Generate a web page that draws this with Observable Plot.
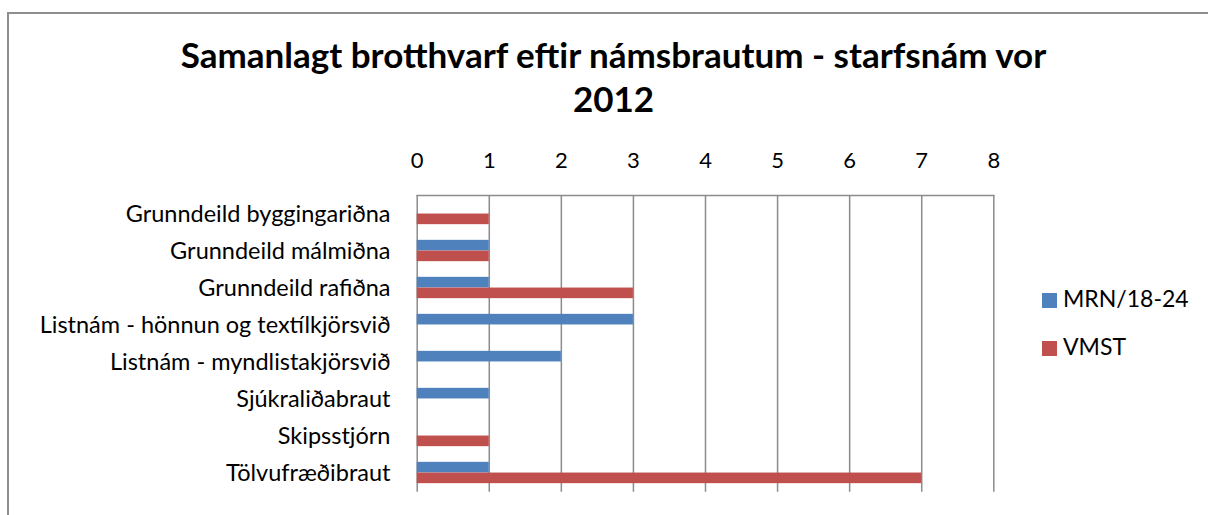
<!DOCTYPE html>
<html>
<head>
<meta charset="utf-8">
<script src="https://cdn.jsdelivr.net/npm/d3@7"></script>
<script src="https://cdn.jsdelivr.net/npm/@observablehq/plot@0.6"></script>
<style>
  html, body { margin: 0; padding: 0; background: #fff; overflow: hidden; }
  #wrap { position: relative; width: 1208px; height: 515px; overflow: hidden; font-family: Lato, "Open Sans", sans-serif; }
  #border { position: absolute; left: 7px; top: 12px; width: 1400px; height: 700px; border: 2px solid #8e8e8e; box-sizing: border-box; }
  #chart { position: absolute; left: 0; top: 0; }
  .title { position: absolute; left: 613.5px; transform: translateX(-50%); white-space: nowrap; font-weight: bold; font-size: 35px; color: #000; line-height: 1; }
  .leg { position: absolute; font-size: 23px; color: #000; white-space: nowrap; line-height: 1; }
  .sw { position: absolute; width: 15px; height: 15px; }
</style>
</head>
<body>
<div id="wrap">
  <div id="border"></div>
  <div id="chart"></div>
  <div class="title" id="t1" style="top:37px">Samanlagt brotthvarf eftir námsbrautum - starfsnám vor</div>
  <div class="title" id="t2" style="top:81px">2012</div>
  <div class="sw" style="left:1042px; top:293px; background:#4F81BD"></div>
  <div class="leg" style="left:1063px; top:286.5px">MRN/18-24</div>
  <div class="sw" style="left:1042px; top:341px; background:#C0504D"></div>
  <div class="leg" style="left:1063px; top:334.5px">VMST</div>
</div>
<script>
const categories = [
  "Grunndeild byggingariðna",
  "Grunndeild málmiðna",
  "Grunndeild rafiðna",
  "Listnám - hönnun og textílkjörsvið",
  "Listnám - myndlistakjörsvið",
  "Sjúkraliðabraut",
  "Skipsstjórn",
  "Tölvufræðibraut"
];
const mrn  = [0, 1, 1, 3, 2, 1, 0, 1];
const vmst = [1, 1, 3, 0, 0, 0, 1, 7];
const xTicks = [0, 1, 2, 3, 4, 5, 6, 7, 8];

const mrnData = categories.map((c, i) => ({cat: c, v: mrn[i]})).filter(d => d.v > 0);
const vmstData = categories.map((c, i) => ({cat: c, v: vmst[i]})).filter(d => d.v > 0);

const band = (491.7 - 195) / categories.length;
const barH = band * 0.2887;
const outer = (band - 2 * barH) / 2;

const plot = Plot.plot({
  width: 1208,
  height: 515,
  marginLeft: 416.7,
  marginRight: 214.7,
  marginTop: 195,
  marginBottom: 23.3,
  style: {fontFamily: "Lato, 'Open Sans', sans-serif", fontSize: "22px", color: "#000", background: "transparent"},
  x: {domain: [0, 8], ticks: xTicks, axis: null, label: null},
  y: {domain: categories, padding: 0, axis: null, label: null},
  marks: [
    Plot.ruleX(xTicks, {x: d => d, stroke: "#8c8c8c", strokeWidth: 1.5}),
    Plot.barX(mrnData, {x: "v", y: "cat", fill: "#4F81BD", insetTop: outer, insetBottom: outer + barH}),
    Plot.barX(vmstData, {x: "v", y: "cat", fill: "#C0504D", insetTop: outer + barH, insetBottom: outer}),
    Plot.frame({anchor: "top", stroke: "#8c8c8c", strokeWidth: 1.5}),
    Plot.axisX({anchor: "top", ticks: xTicks, tickSize: 0, tickPadding: 28, tickFormat: d => String(d), fontSize: 22, label: null}),
    Plot.axisY({anchor: "left", tickSize: 0, tickPadding: 26.7, fontSize: 23.5, textAnchor: "end", label: null})
  ]
});
document.getElementById("chart").appendChild(plot);
</script>
</body>
</html>
